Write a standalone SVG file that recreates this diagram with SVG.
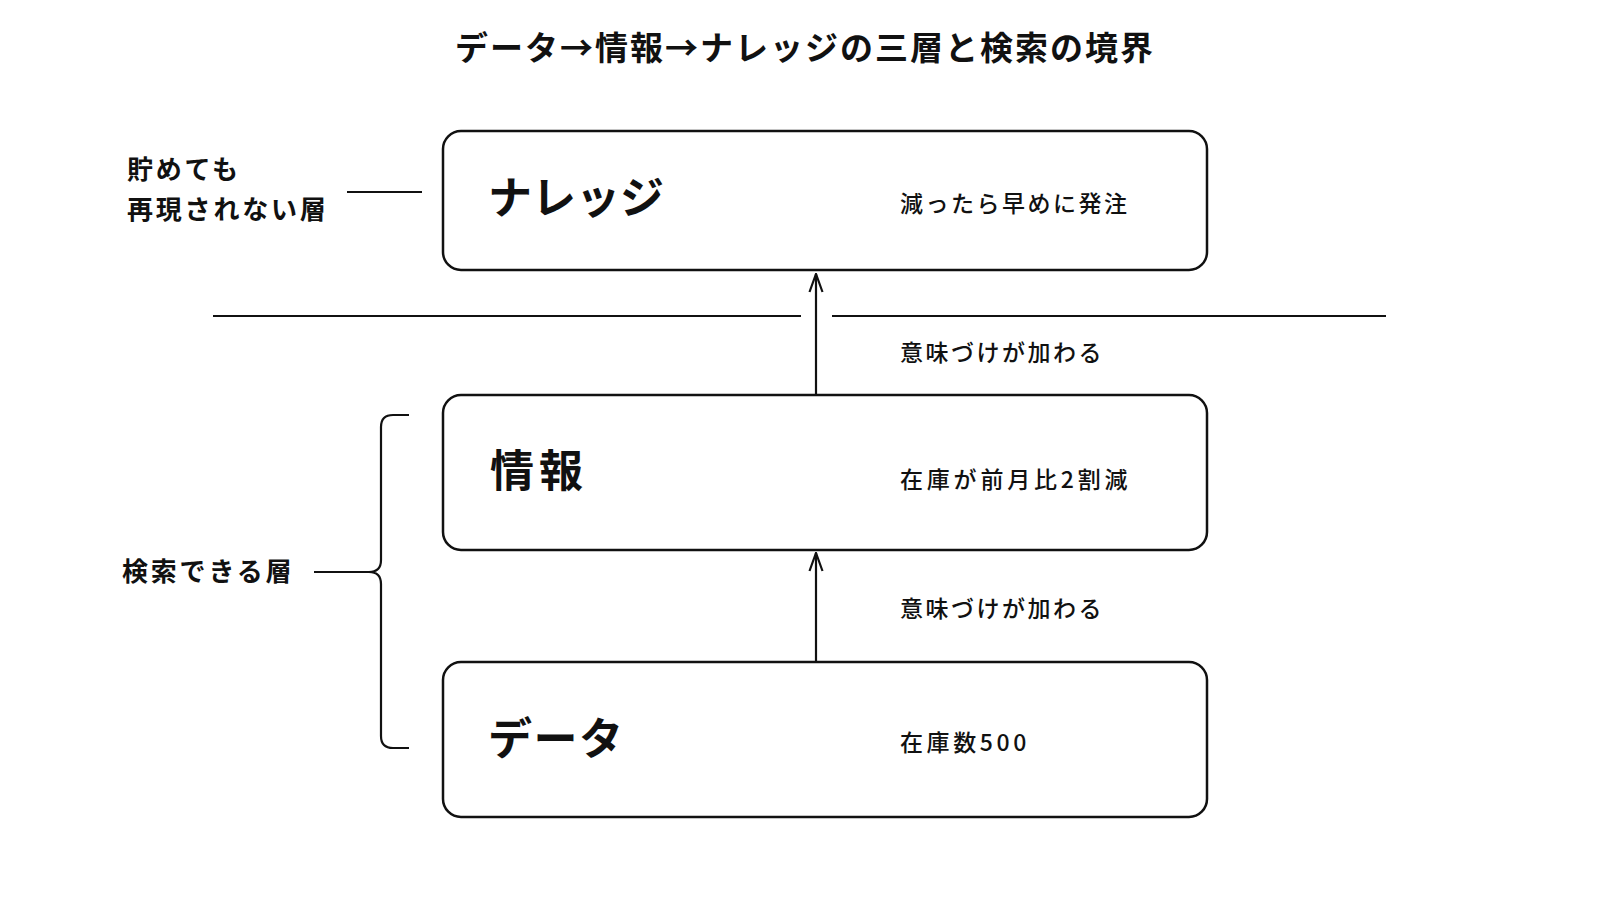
<svg xmlns="http://www.w3.org/2000/svg" width="1600" height="900" viewBox="0 0 1600 900">
<defs>
<style>
.t{font-family:"Noto Sans CJK JP","Noto Sans",sans-serif;fill:#111}
.title{font-size:33px;font-weight:700;letter-spacing:2px}
.lbl{font-size:44px;font-weight:700}
.ex{font-size:23px;font-weight:500;letter-spacing:2.5px}
.side{font-size:26px;font-weight:700;letter-spacing:2.8px}
.box{fill:#fff;stroke:#111;stroke-width:2.5}
.ln{fill:none;stroke:#111;stroke-width:2.2}
</style>
<marker id="ah" viewBox="0 0 20 20" refX="19" refY="10" markerWidth="20" markerHeight="20" markerUnits="userSpaceOnUse" orient="auto">
<path d="M1,3.5 L19,10 L1,16.5" fill="none" stroke="#111" stroke-width="2.2"/>
</marker>
</defs>
<rect width="1600" height="900" fill="#fff"/>
<text class="t title" x="805" y="60" text-anchor="middle">データ→情報→ナレッジの三層と検索の境界</text>

<g id="connectors">
<line class="ln" x1="213" y1="316" x2="801" y2="316"/>
<line class="ln" x1="832" y1="316" x2="1386" y2="316"/>
<line class="ln" x1="816" y1="395" x2="816" y2="274" marker-end="url(#ah)"/>
<line class="ln" x1="816" y1="662" x2="816" y2="553" marker-end="url(#ah)"/>
<text class="t ex" x="900" y="361">意味づけが加わる</text>
<text class="t ex" x="900" y="617">意味づけが加わる</text>
<line class="ln" x1="347" y1="192" x2="422" y2="192"/>
<path class="ln" d="M314,572 L369,572 Q381,572 381,560 L381,427 Q381,415 393,415 L409,415 M369,572 Q381,572 381,584 L381,736 Q381,748 393,748 L409,748"/>
</g>

<g id="knowledge">
<rect class="box" x="443" y="131" width="764" height="139" rx="18"/>
<text class="t lbl" x="488" y="214">ナレッジ</text>
<text class="t ex" x="900" y="212">減ったら早めに発注</text>
</g>

<g id="information">
<rect class="box" x="443" y="395" width="764" height="155" rx="18"/>
<text class="t lbl" x="490" y="487" style="letter-spacing:5px">情報</text>
<text class="t ex" x="900" y="488" style="letter-spacing:3.8px">在庫が前月比2割減</text>
</g>

<g id="data">
<rect class="box" x="443" y="662" width="764" height="155" rx="18"/>
<text class="t lbl" x="488" y="755" style="letter-spacing:1.5px">データ</text>
<text class="t ex" x="900" y="751" style="letter-spacing:3.6px">在庫数500</text>
</g>

<g id="side-labels">
<text class="t side" x="127" y="179">貯めても</text>
<text class="t side" x="127" y="219">再現されない層</text>
<text class="t side" x="122" y="581">検索できる層</text>
</g>
</svg>
